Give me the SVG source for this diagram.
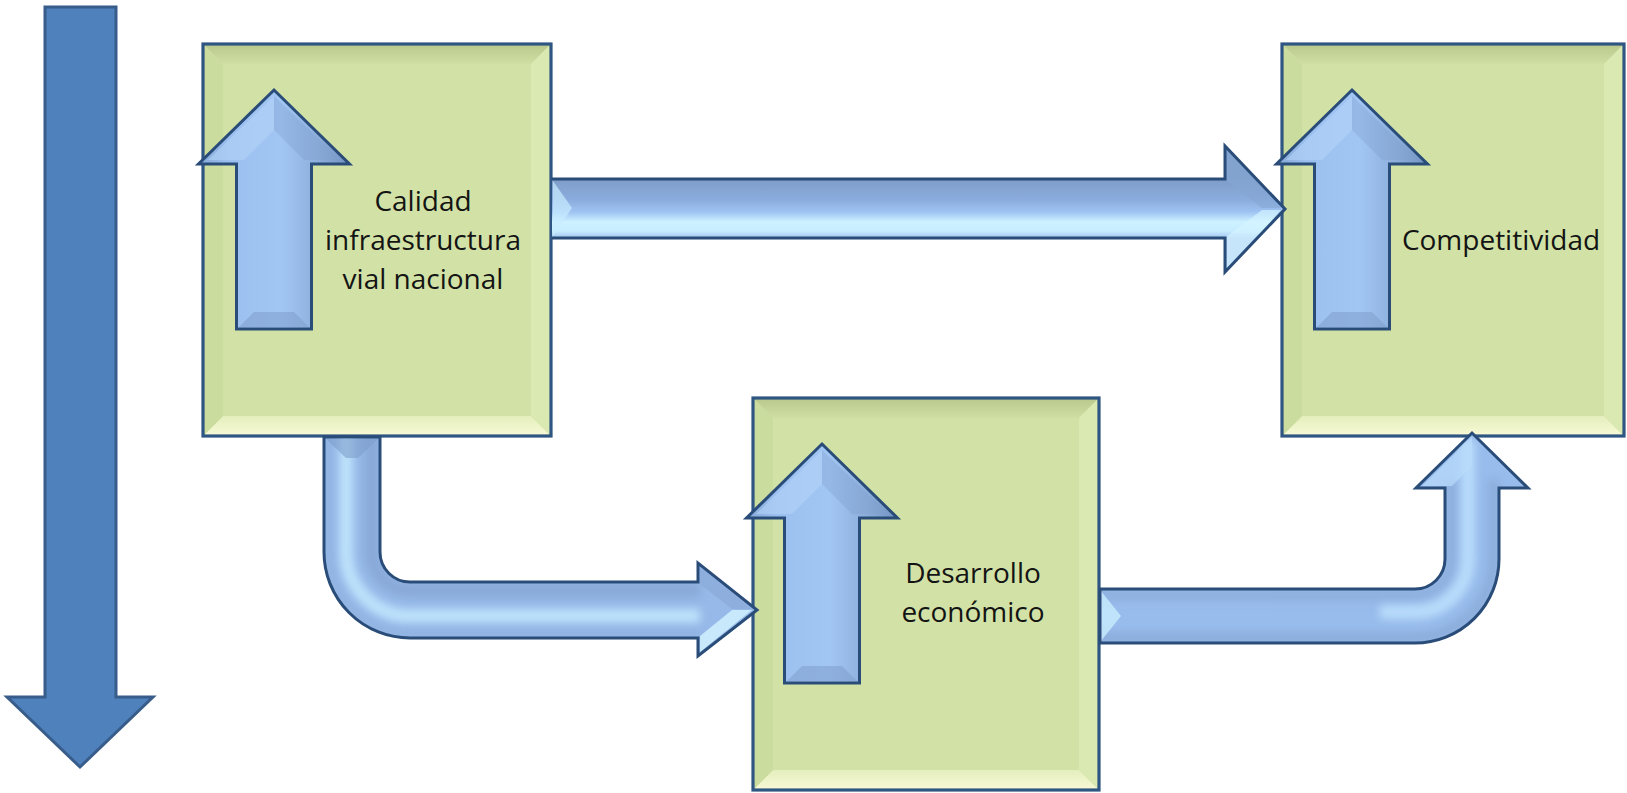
<svg xmlns="http://www.w3.org/2000/svg" xmlns:xlink="http://www.w3.org/1999/xlink" width="1627" height="793" viewBox="0 0 1627 793">
<style>
.lbl{font-family:"Open Sans","Liberation Sans",sans-serif;font-size:28px;fill:#141414;text-anchor:middle}
.box{fill:#d2e2a6}
.bord{fill:none;stroke:#2f5682;stroke-width:3.2}
.arr{stroke:#2a4c78;stroke-width:3;stroke-linejoin:miter}
.bb{fill:#f5f8d0}
.bl{fill:#cbdc9f}
.br{fill:#dae8b2}
</style>
<defs>
<filter id="soft" x="-20%" y="-20%" width="140%" height="140%"><feGaussianBlur stdDeviation="4"/></filter>
<linearGradient id="gUp" x1="0" y1="0" x2="1" y2="0">
<stop offset="0" stop-color="#86a8d6"/>
<stop offset="0.2" stop-color="#9bc0ef"/>
<stop offset="0.55" stop-color="#a2c6f4"/>
<stop offset="0.8" stop-color="#8cadda"/>
<stop offset="1" stop-color="#7394c2"/>
</linearGradient>
<linearGradient id="gTop" gradientUnits="userSpaceOnUse" x1="0" y1="180" x2="0" y2="238">
<stop offset="0" stop-color="#7f9dc9"/>
<stop offset="0.35" stop-color="#8badde"/>
<stop offset="0.55" stop-color="#9ec3f3"/>
<stop offset="0.72" stop-color="#cdf1ff"/>
<stop offset="0.88" stop-color="#c6ecff"/>
<stop offset="1" stop-color="#a3c4ee"/>
</linearGradient>
<linearGradient id="gBt" x1="0" y1="0" x2="0" y2="1">
<stop offset="0" stop-color="#b9c98c"/>
<stop offset="1" stop-color="#cfdea3"/>
</linearGradient>
<linearGradient id="gBb" x1="0" y1="0" x2="0" y2="1">
<stop offset="0" stop-color="#e4eebd"/>
<stop offset="1" stop-color="#f8fad6"/>
</linearGradient>
<path id="up" d="M -37.5 239 L -37.5 74 L -75.5 74 L 0 0 L 75.5 74 L 37.5 74 L 37.5 239 Z"/>
<clipPath id="clipUp"><use xlink:href="#up" href="#up"/></clipPath>
<g id="upArrow">
<use xlink:href="#up" href="#up" fill="url(#gUp)"/>
<g clip-path="url(#clipUp)">
<polygon points="0,6 -66,70 -30,70 0,40" fill="#b6d5f7" opacity="0.55"/>
<polygon points="0,6 66,70 30,70 0,40" fill="#7d9dca" opacity="0.35"/>
<polygon points="-35,237 35,237 20,222 -20,222" fill="#7f9fcc" opacity="0.55"/>
</g>
<use xlink:href="#up" href="#up" fill="none" class="arr"/>
</g>
<path id="bentA" d="M 324 437 L 380 437 L 380 552 A 30 30 0 0 0 410 582 L 698 582 L 698 563 L 757 610 L 698 656 L 698 638 L 410 638 A 86 86 0 0 1 324 552 Z"/>
<path id="bentB" d="M 1100 589 L 1415 589 A 30 30 0 0 0 1445 559 L 1445 488 L 1416 488 L 1472 433 L 1528 488 L 1499 488 L 1499 559 A 84 84 0 0 1 1415 643 L 1100 643 Z"/>
<clipPath id="clipA"><use xlink:href="#bentA" href="#bentA"/></clipPath>
<clipPath id="clipB"><use xlink:href="#bentB" href="#bentB"/></clipPath>
</defs>
<rect width="1627" height="793" fill="#ffffff"/>

<g id="timeline-arrow">
<path d="M 45 7 L 116 7 L 116 697 L 153 697 L 80 767 L 7 697 L 45 697 Z" fill="#4f81bd" stroke="#385d8a" stroke-width="3"/>
</g>

<g id="node-calidad">
<rect class="box" x="203" y="44" width="348" height="392"/>
<polygon points="203,44 551,44 531,64 223,64" fill="url(#gBt)"/>
<polygon points="203,436 551,436 531,416 223,416" fill="url(#gBb)"/>
<polygon class="bl" points="203,44 223,64 223,416 203,436"/>
<polygon class="br" points="551,44 531,64 531,416 551,436"/>
<rect class="bord" x="203" y="44" width="348" height="392"/>
<use xlink:href="#upArrow" href="#upArrow" x="274" y="90"/>
<text class="lbl" x="423" y="211">Calidad</text>
<text class="lbl" x="423" y="250">infraestructura</text>
<text class="lbl" x="423" y="289">vial nacional</text>
</g>

<g id="node-competitividad">
<rect class="box" x="1282" y="44" width="342" height="392"/>
<polygon points="1282,44 1624,44 1604,64 1302,64" fill="url(#gBt)"/>
<polygon points="1282,436 1624,436 1604,416 1302,416" fill="url(#gBb)"/>
<polygon class="bl" points="1282,44 1302,64 1302,416 1282,436"/>
<polygon class="br" points="1624,44 1604,64 1604,416 1624,436"/>
<rect class="bord" x="1282" y="44" width="342" height="392"/>
<use xlink:href="#upArrow" href="#upArrow" x="1352" y="90"/>
<text class="lbl" x="1501" y="250">Competitividad</text>
</g>

<g id="node-desarrollo">
<rect class="box" x="753" y="398" width="346" height="392"/>
<polygon points="753,398 1099,398 1079,418 773,418" fill="url(#gBt)"/>
<polygon points="753,790 1099,790 1079,770 773,770" fill="url(#gBb)"/>
<polygon class="bl" points="753,398 773,418 773,770 753,790"/>
<polygon class="br" points="1099,398 1079,418 1079,770 1099,790"/>
<rect class="bord" x="753" y="398" width="346" height="392"/>
<use xlink:href="#upArrow" href="#upArrow" x="822" y="444"/>
<text class="lbl" x="973" y="583">Desarrollo</text>
<text class="lbl" x="973" y="622">económico</text>
</g>

<g id="connectors">
<g id="c-calidad-competitividad">
<path d="M 552 179 L 1225 179 L 1225 146 L 1285 209 L 1225 272 L 1225 238 L 552 238 Z" fill="url(#gTop)"/>
<polygon points="553,181 553,236 572,208" fill="#c9ecff" opacity="0.7"/>
<polygon points="1227,150 1281,208 1262,208 1227,181" fill="#86a6d3" opacity="0.6"/>
<polygon points="1227,268 1281,210 1262,210 1227,236" fill="#d4f4ff" opacity="0.7"/>
<path d="M 552 179 L 1225 179 L 1225 146 L 1285 209 L 1225 272 L 1225 238 L 552 238" fill="none" class="arr"/>
</g>
<g id="c-calidad-desarrollo">
<use xlink:href="#bentA" href="#bentA" fill="#96b9e9"/>
<g clip-path="url(#clipA)">
<path d="M 372 430 L 372 552 A 38 38 0 0 0 410 590 L 700 590" fill="none" stroke="#809fcd" stroke-width="14" opacity="0.6" filter="url(#soft)"/>
<path d="M 346 430 L 346 552 A 64 64 0 0 0 410 616 L 700 616" fill="none" stroke="#c8ecff" stroke-width="14" opacity="0.8" filter="url(#soft)"/>
<path d="M 328 430 L 328 552 A 82 82 0 0 0 410 634 L 700 634" fill="none" stroke="#8aaad8" stroke-width="6" opacity="0.5" filter="url(#soft)"/>
<polygon points="326,439 378,439 358,458 346,458" fill="#7f9fcc" opacity="0.6"/>
<polygon points="700,652 752,610 732,610 700,636" fill="#d4f4ff" opacity="0.8"/>
<polygon points="700,567 752,609 732,609 700,584" fill="#88a8d6" opacity="0.6"/>
</g>
<use xlink:href="#bentA" href="#bentA" fill="none" class="arr"/>
</g>
<g id="c-desarrollo-competitividad">
<use xlink:href="#bentB" href="#bentB" fill="#98bcec"/>
<g clip-path="url(#clipB)">
<path d="M 1095 595 L 1415 595 A 36 36 0 0 0 1451 559 L 1451 480" fill="none" stroke="#86a6d4" stroke-width="12" opacity="0.55" filter="url(#soft)"/>
<path d="M 1380 612 L 1415 612 A 53 53 0 0 0 1468 559 L 1468 440" fill="none" stroke="#c4e8ff" stroke-width="14" opacity="0.75" filter="url(#soft)"/>
<path d="M 1095 638 L 1415 638 A 79 79 0 0 0 1494 559 L 1494 480" fill="none" stroke="#809fcc" stroke-width="10" opacity="0.55" filter="url(#soft)"/>
<polygon points="1101,591 1101,641 1121,616" fill="#c9ecff" opacity="0.8"/>
<polygon points="1472,437 1422,486 1452,486 1472,466" fill="#b9dcfb" opacity="0.7"/>
</g>
<use xlink:href="#bentB" href="#bentB" fill="none" class="arr"/>
</g>
</g>
</svg>
